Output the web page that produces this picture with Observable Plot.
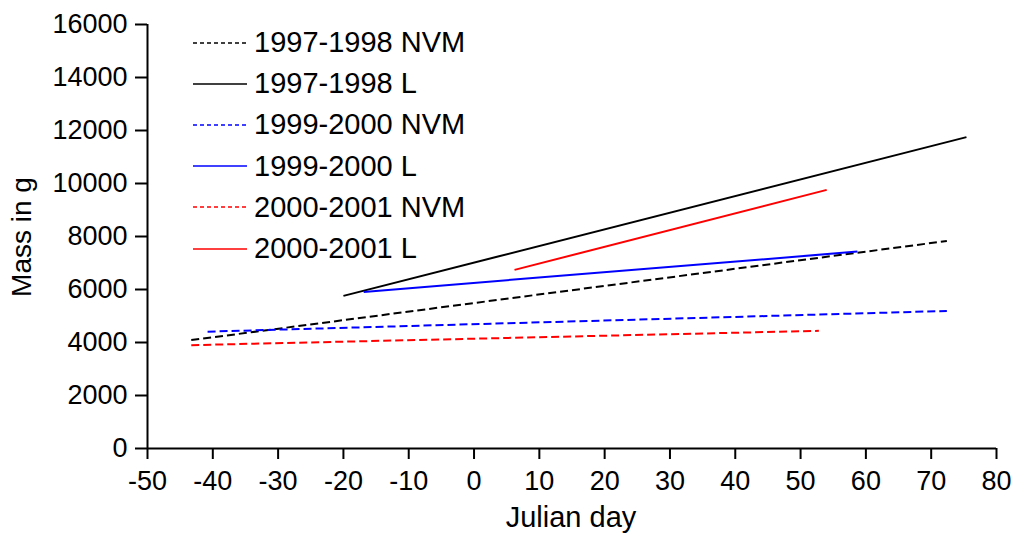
<!DOCTYPE html>
<html>
<head>
<meta charset="utf-8">
<script src="https://cdn.jsdelivr.net/npm/d3@7"></script>
<script src="https://cdn.jsdelivr.net/npm/@observablehq/plot@0.6"></script>
<style>
  html, body { margin: 0; padding: 0; background: #fff; }
  #wrap { position: relative; width: 1014px; height: 533px; overflow: hidden; font-family: "Liberation Sans", Arial, sans-serif; }
  #legend { position: absolute; left: 190px; top: 22px; }
  .lrow { display: flex; align-items: center; height: 41.2px; }
  .lrow svg { display: block; margin-right: 7px; }
  .lrow span { font-size: 29px; color: #000; line-height: 1; }
  .ytitle { position: absolute; left: 22px; top: 237px; transform: translate(-50%, -50%) rotate(-90deg); font-size: 28px; line-height: 1; white-space: nowrap; }
  .xtitle { position: absolute; left: 571px; top: 503px; transform: translateX(-50%); font-size: 29px; line-height: 1; white-space: nowrap; }
</style>
</head>
<body>
<div id="wrap"></div>
<script>
// ---- data ----
const series    = ["1997-1998 NVM", "1997-1998 L", "1999-2000 NVM", "1999-2000 L", "2000-2001 NVM", "2000-2001 L"];
const dayStart  = [-43.3, -20.0, -40.8, -16.9, -43.3, 6.2];
const dayEnd    = [72.4, 75.4, 72.4, 58.7, 52.8, 54.0];
const massStart = [4090, 5760, 4410, 5910, 3900, 6740];
const massEnd   = [7830, 11750, 5190, 7430, 4440, 9760];
const xTicks = [-50, -40, -30, -20, -10, 0, 10, 20, 30, 40, 50, 60, 70, 80];
const yTicks = [0, 2000, 4000, 6000, 8000, 10000, 12000, 14000, 16000];

// ---- styles ----
const colorOf = {"1997-1998": "#000000", "1999-2000": "#0000ff", "2000-2001": "#ff0000"};
const isDashed = s => s.endsWith("NVM");
const colorFor = s => colorOf[s.slice(0, 9)];

const rows = series.map((s, i) => ({s, x1: dayStart[i], x2: dayEnd[i], y1: massStart[i], y2: massEnd[i]}));

const font = "Liberation Sans, Arial, sans-serif";
const chart = Plot.plot({
  width: 1014,
  height: 533,
  marginLeft: 147,
  marginRight: 18,
  marginTop: 24,
  marginBottom: 85,
  style: {fontFamily: font, fontSize: "27px", color: "#000", background: "#fff"},
  x: {domain: [-50, 80]},
  y: {domain: [0, 16000]},
  marks: [
    Plot.axisX({ticks: xTicks, tickFormat: d => String(d), tickSize: 11, tickPadding: 11, strokeWidth: 2, label: null, fontSize: 27}),
    Plot.axisY({ticks: yTicks, tickFormat: d => String(d), tickSize: 12, tickPadding: 8, strokeWidth: 2, label: null, fontSize: 27}),
    Plot.ruleX([-50], {stroke: "#000", strokeWidth: 2}),
    Plot.ruleY([0], {stroke: "#000", strokeWidth: 2}),
    ...rows.map(r => Plot.link([r], {
      x1: "x1", y1: "y1", x2: "x2", y2: "y2",
      stroke: colorFor(r.s), strokeWidth: 2,
      strokeDasharray: isDashed(r.s) ? "8,4" : null
    }))
  ]
});

const wrap = document.getElementById("wrap");
wrap.appendChild(chart);

// legend
const legend = document.createElement("div");
legend.id = "legend";
series.forEach(s => {
  const row = document.createElement("div");
  row.className = "lrow";
  const dash = isDashed(s) ? 'stroke-dasharray="4,3"' : "";
  row.innerHTML = `<svg width="57" height="4"><line x1="3" y1="2" x2="57" y2="2" stroke="${colorFor(s)}" stroke-width="1.6" ${dash}/></svg><span>${s}</span>`;
  legend.appendChild(row);
});
wrap.appendChild(legend);

const yt = document.createElement("div");
yt.className = "ytitle";
yt.textContent = "Mass in g";
wrap.appendChild(yt);

const xt = document.createElement("div");
xt.className = "xtitle";
xt.textContent = "Julian day";
wrap.appendChild(xt);
</script>
</body>
</html>
